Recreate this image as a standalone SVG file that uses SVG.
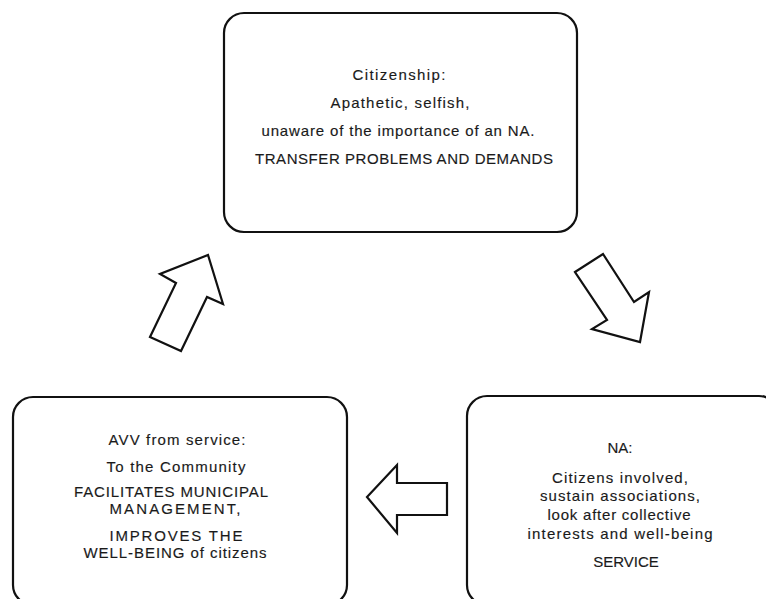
<svg xmlns="http://www.w3.org/2000/svg" width="766" height="599" viewBox="0 0 766 599">
<style>
.box{fill:#fff;stroke:#111;stroke-width:2.2}
.arr{fill:#fff;stroke:#111;stroke-width:2.2;stroke-linejoin:miter}
text{font-family:"Liberation Sans",Arial,sans-serif;font-size:15px;fill:#1a1a1a;stroke:#1a1a1a;stroke-width:0.15;text-anchor:middle}
</style>
<rect width="766" height="599" fill="#fff"/>
<g id="node-citizenship">
<rect class="box" x="224" y="13" width="353" height="219" rx="20" ry="20"/>
<text x="399" y="80" textLength="93" lengthAdjust="spacing">Citizenship:</text>
<text x="400" y="108" textLength="139" lengthAdjust="spacing">Apathetic, selfish,</text>
<text x="398" y="136" textLength="273" lengthAdjust="spacing">unaware of the importance of an NA.</text>
<text x="404" y="164" textLength="298" lengthAdjust="spacing">TRANSFER PROBLEMS AND DEMANDS</text>
</g>
<g id="node-avv">
<rect class="box" x="13" y="397" width="334" height="208" rx="20" ry="20"/>
<text x="177" y="445" textLength="137" lengthAdjust="spacing">AVV from service:</text>
<text x="176" y="472" textLength="139" lengthAdjust="spacing">To the Community</text>
<text x="171" y="497" textLength="194" lengthAdjust="spacing">FACILITATES MUNICIPAL</text>
<text x="175" y="514" textLength="131" lengthAdjust="spacing">MANAGEMENT,</text>
<text x="176" y="541" textLength="133" lengthAdjust="spacing">IMPROVES THE</text>
<text x="175" y="558" textLength="183" lengthAdjust="spacing">WELL-BEING of citizens</text>
</g>
<g id="node-na">
<rect class="box" x="467" y="396" width="312" height="209" rx="20" ry="20"/>
<text x="620" y="453">NA:</text>
<text x="620" y="483" textLength="136" lengthAdjust="spacing">Citizens involved,</text>
<text x="620" y="501" textLength="160" lengthAdjust="spacing">sustain associations,</text>
<text x="619" y="520" textLength="143" lengthAdjust="spacing">look after collective</text>
<text x="620" y="539" textLength="185" lengthAdjust="spacing">interests and well-being</text>
<text x="626" y="567">SERVICE</text>
</g>
<g id="connectors">
<polygon class="arr" points="575,272 603,254 634,302 649,292 640,342 592,329 607,320"/>
<polygon class="arr" points="447,483 397,483 397,465 367,497 397,533 397,515 447,515"/>
<polygon class="arr" points="150,337 181,351 207,297 223,304 208,255 160,274 176,283"/>
</g>
</svg>
